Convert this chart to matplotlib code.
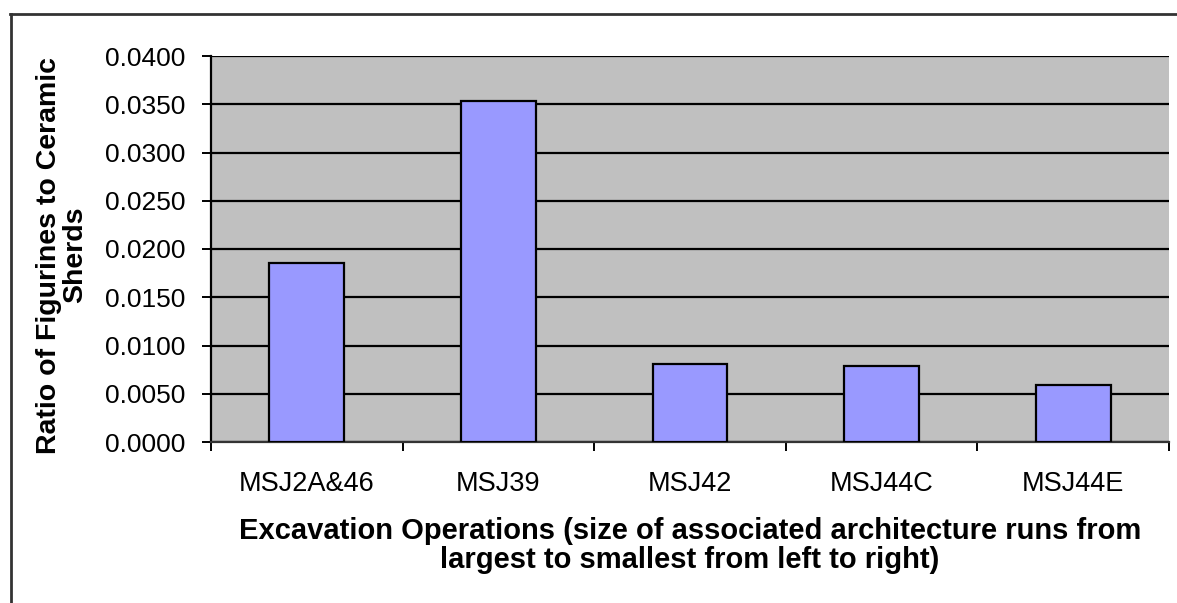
import matplotlib.pyplot as plt
from matplotlib.lines import Line2D

operations = ["MSJ2A&46", "MSJ39", "MSJ42", "MSJ44C", "MSJ44E"]
ratios = [0.0185, 0.0353, 0.0081, 0.0079, 0.0059]
yticks = [0.0, 0.005, 0.010, 0.015, 0.020, 0.025, 0.030, 0.035, 0.040]

plt.rcParams['font.family'] = ['Liberation Sans', 'DejaVu Sans']

W, H = 1177, 603
fig = plt.figure(figsize=(W / 100, H / 100), dpi=100)
ax = fig.add_axes([211 / W, 1 - 442 / H, (1169 - 211) / W, (442 - 56) / H])

# outer chart border (only top and left edges visible)
fig.add_artist(Line2D([10 / W, 1], [1 - 14 / H, 1 - 14 / H], transform=fig.transFigure,
                      color="#333333", linewidth=2))
fig.add_artist(Line2D([11 / W, 11 / W], [0, 1 - 14 / H], transform=fig.transFigure,
                      color="#333333", linewidth=2))

x = range(len(operations))
ax.set_facecolor("#C0C0C0")
ax.bar(x, ratios, width=0.39, color="#9999FF", edgecolor="black", linewidth=1.6, zorder=3)

ax.set_xlim(-0.5, len(operations) - 0.5)
ax.set_ylim(0, 0.04)
ax.set_yticks(yticks)
ax.set_yticklabels([f"{v:.4f}" for v in yticks], fontsize=19)
ax.yaxis.grid(True, color="black", linewidth=1.6, zorder=1)

# category labels centered, tick marks between categories
ax.set_xticks([i - 0.5 for i in range(len(operations) + 1)])
ax.set_xticklabels([])
ax.set_xticks(list(x), minor=True)
ax.set_xticklabels(operations, minor=True, fontsize=19.5)
ax.tick_params(axis="x", which="minor", length=0, pad=21)
ax.tick_params(axis="x", which="major", length=6.5, width=1.4, direction="out")
ax.tick_params(axis="y", length=6.5, width=1.4, direction="out", pad=12)

for side in ["top", "right"]:
    ax.spines[side].set_visible(False)
ax.spines["left"].set_linewidth(1.6)
ax.spines["bottom"].set_linewidth(1.6)
ax.spines["bottom"].set_color("#333333")

fig.text(62 / W, 1 - 255 / H, "Ratio of Figurines to Ceramic\nSherds", rotation=90,
         ha="center", va="center", multialignment="center", fontsize=20.5,
         fontweight="bold", linespacing=1.0)
fig.text(690 / W, 1 - 517 / H, "Excavation Operations (size of associated architecture runs from\n"
         "largest to smallest from left to right)", ha="center", va="top",
         multialignment="center", fontsize=21, fontweight="bold", linespacing=1.05)

fig.savefig("out.png", dpi=100)
